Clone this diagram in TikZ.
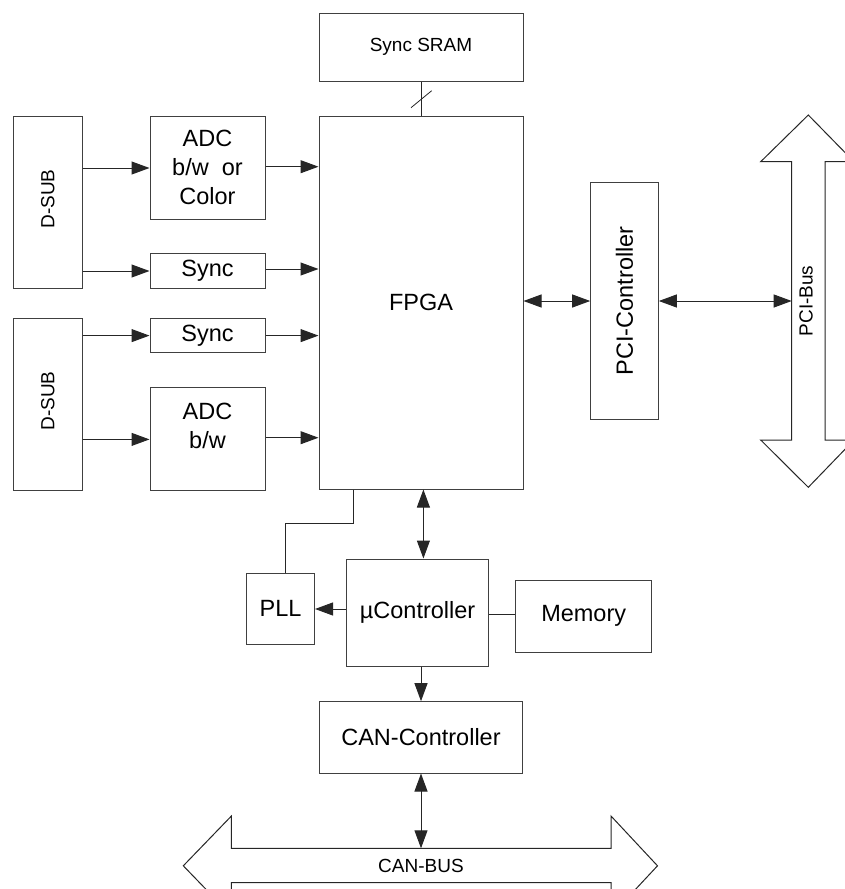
\documentclass[tikz,border=0pt]{standalone}
\usepackage{fontspec}
\setmainfont{Liberation Sans}
\usetikzlibrary{arrows.meta}
\begin{document}
\begin{tikzpicture}[x=1pt,y=-1pt,
  box/.style={draw=black!75, line width=1pt, rectangle, inner sep=0pt, align=center, font=\fontsize{23.5}{29.3}\selectfont},
  lbl/.style={inner sep=0pt, align=center, font=\fontsize{23.5}{29.3}\selectfont},
  small/.style={inner sep=0pt, font=\fontsize{19}{23}\selectfont},
  conn/.style={draw=black!85, line width=1pt},
  arr/.style={conn, -{Triangle[length=18pt,width=13pt]}},
  barr/.style={conn, {Triangle[length=18pt,width=13pt]}-{Triangle[length=18pt,width=13pt]}},
  bus/.style={draw=black!85, line width=1pt, fill=white}]
\useasboundingbox (0,0) rectangle (845,889);
\clip (0,0) rectangle (845,889);
% boxes
\node[box, small, minimum width=204pt, minimum height=67.5pt] (sram) at (421,47.25) {Sync SRAM};
\node[box, minimum width=204pt, minimum height=373pt] (fpga) at (421,302.5) {FPGA};
\node[box, minimum width=68.5pt, minimum height=172pt] (dsub1) at (47.75,202) {};
\node[small, rotate=90] (dsub1l) at (47.75,199) {D-SUB};
\node[box, minimum width=115pt, minimum height=103pt] (adc1) at (207.5,167.5) {ADC\\b/w~ or\\Color};
\node[box, minimum width=115pt, minimum height=34.5pt] (sync1) at (207.5,270.75) {Sync};
\node[box, minimum width=68.5pt, minimum height=171.3pt] (dsub2) at (47.75,404.35) {};
\node[small, rotate=90] (dsub2l) at (47.75,401) {D-SUB};
\node[box, minimum width=115pt, minimum height=33.8pt] (sync2) at (207.5,335.6) {Sync};
\node[box, minimum width=115pt, minimum height=103pt] (adc2) at (207.5,438.5) {};
\node[lbl] (adc2l) at (207.5,426) {ADC\\b/w};
\node[box, minimum width=67.6pt, minimum height=237pt] (pci) at (624.5,300.8) {};
\node[lbl, rotate=90] (pcil) at (624.5,300.8) {PCI-Controller};
\node[box, minimum width=67.7pt, minimum height=71pt] (pll) at (280.65,608.5) {PLL};
\node[box, minimum width=142.4pt, minimum height=107pt] (uc) at (417.6,612.5) {µController};
\node[box, minimum width=135.8pt, minimum height=72pt] (mem) at (583.7,616) {Memory};
\node[box, minimum width=203pt, minimum height=71.3pt] (can) at (421,737.35) {CAN-Controller};
% buses
\draw[bus] (808.3,115) -- (854,161.7) -- (825,161.7) -- (825,440) -- (854,440) -- (808.3,487.3)
  -- (760.7,440) -- (791.7,440) -- (791.7,161.7) -- (760.7,161.7) -- cycle;
\node[small, rotate=90] (pcibusl) at (806,301) {PCI-Bus};
\coordinate (pcibus) at (791.7,301);
\draw[bus] (183.3,865.8) -- (231.4,816) -- (231.4,848.3) -- (611,848.3) -- (611,816) -- (657.5,865.8)
  -- (611,915.6) -- (611,882.7) -- (231.4,882.7) -- (231.4,915.6) -- cycle;
\node[small] (canbusl) at (421,865.5) {CAN-BUS};
\coordinate (canbus) at (421,848.3);
% row coordinates
\coordinate (ya1) at (0,168);
\coordinate (ya2) at (0,166.7);
\coordinate (yb1) at (0,271);
\coordinate (yb2) at (0,269);
\coordinate (yc) at (0,335.6);
\coordinate (yd1) at (0,439.4);
\coordinate (yd2) at (0,437.7);
\coordinate (ye) at (0,301);
\coordinate (yf) at (0,609);
\coordinate (yg) at (0,614);
\coordinate (xh) at (423.4,0);
\coordinate (xi) at (421,0);
\coordinate (k1) at (353,523.5);
\coordinate (k2) at (285,523.5);
% connectors
\draw[conn] (sram.south) -- (fpga.north);
\draw[conn, line width=0.8pt] (411,107.7) -- (431.7,90.7);
\draw[arr] (dsub1.east |- ya1) -- (adc1.west |- ya1);
\draw[arr] (adc1.east |- ya2) -- (fpga.west |- ya2);
\draw[arr] (dsub1.east |- yb1) -- (sync1.west |- yb1);
\draw[arr] (sync1.east |- yb2) -- (fpga.west |- yb2);
\draw[arr] (dsub2.east |- yc) -- (sync2.west |- yc);
\draw[arr] (sync2.east |- yc) -- (fpga.west |- yc);
\draw[arr] (dsub2.east |- yd1) -- (adc2.west |- yd1);
\draw[arr] (adc2.east |- yd2) -- (fpga.west |- yd2);
\draw[barr] (fpga.east |- ye) -- (pci.west |- ye);
\draw[barr] (pci.east |- ye) -- (pcibus);
\draw[barr] (fpga.south -| xh) -- (uc.north -| xh);
\draw[arr] (uc.west |- yf) -- (pll.east |- yf);
\draw[conn] (uc.east |- yg) -- (mem.west |- yg);
\draw[arr] (uc.south -| xi) -- (can.north -| xi);
\draw[barr] (can.south -| xi) -- (canbus);
\draw[conn] (fpga.south -| k1) |- (k2) -- (k2 |- pll.north);
\end{tikzpicture}
\end{document}
